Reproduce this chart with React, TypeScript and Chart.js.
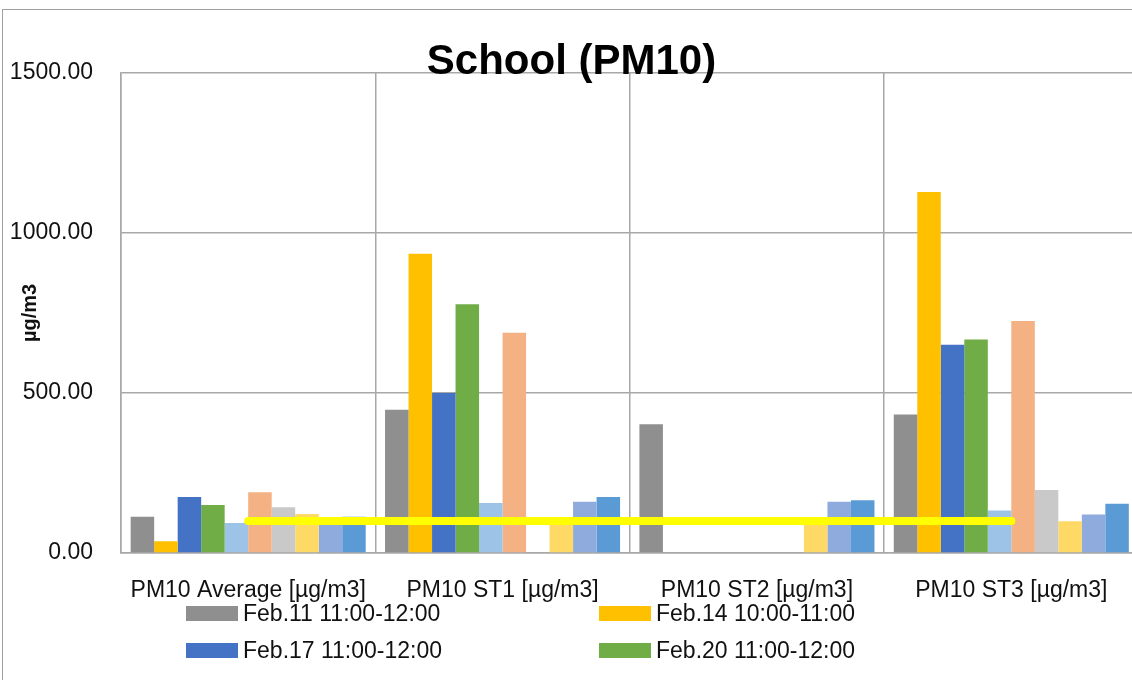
import React, { useEffect, useRef } from "react";
import { Chart, registerables } from "chart.js";

Chart.register(...registerables);

const categories = [
  "PM10 Average [µg/m3]",
  "PM10 ST1 [µg/m3]",
  "PM10 ST2 [µg/m3]",
  "PM10 ST3 [µg/m3]",
];

const seriesNames = [
  "Feb.11 11:00-12:00",
  "Feb.14 10:00-11:00",
  "Feb.17 11:00-12:00",
  "Feb.20 11:00-12:00",
  "Series 5",
  "Series 6",
  "Series 7",
  "Series 8",
  "Series 9",
  "Series 10",
];

const feb11 = [113, 448, 402, 433];
const feb14 = [37, 935, 0, 1128];
const feb17 = [175, 500, 0, 651];
const feb20 = [150, 777, 0, 667];
const series5 = [94, 156, 0, 133];
const series6 = [190, 688, 0, 725];
const series7 = [143, 0, 0, 197];
const series8 = [122, 100, 100, 99];
const series9 = [112, 160, 160, 120];
const series10 = [113, 175, 165, 154];

const limitLine = [100, 100, 100, 100];

const yTicks = [0, 500, 1000, 1500];

const seriesValues = [feb11, feb14, feb17, feb20, series5, series6, series7, series8, series9, series10];
const seriesColors = [
  "#8f8f8f",
  "#ffc000",
  "#4472c4",
  "#70ad47",
  "#9dc3e6",
  "#f4b183",
  "#c9c9c9",
  "#ffd966",
  "#8faadc",
  "#5b9bd5",
];

const legendShown = [0, 1, 2, 3];

const FONT = "'Liberation Sans', Arial, sans-serif";

export default function App() {
  const canvasRef = useRef<HTMLCanvasElement | null>(null);

  useEffect(() => {
    const canvas = canvasRef.current;
    if (!canvas) return;
    const barSets = seriesValues.map((vals, i) => ({
      type: "bar" as const,
      label: seriesNames[i],
      data: vals,
      backgroundColor: seriesColors[i],
      borderWidth: 0,
      categoryPercentage: 0.924,
      barPercentage: 1.0,
      order: 1,
    }));
    const chart = new Chart(canvas, {
      type: "bar",
      data: {
        labels: categories,
        datasets: [
          ...barSets,
          {
            type: "line" as const,
            label: "Limit",
            data: limitLine,
            borderColor: "#ffff00",
            backgroundColor: "#ffff00",
            borderWidth: 8,
            borderCapStyle: "round",
            pointRadius: 0,
            fill: false,
            order: -1,
          } as any,
        ],
      },
      options: {
        responsive: false,
        animation: false,
        layout: { padding: { left: 0, top: 73, right: 11.5, bottom: 0 } },
        plugins: {
          legend: { display: false },
          title: { display: false },
          tooltip: { enabled: false },
        },
        scales: {
          x: {
            offset: true,
            grid: { offset: true, color: "#a8a8a8", lineWidth: 1.5, drawTicks: false },
            border: { color: "#a8a8a8", width: 1.5 },
            ticks: {
              color: "#111",
              font: { family: FONT, size: 23 },
              padding: 24,
              maxRotation: 0,
              autoSkip: false,
            },
            afterFit: (scale: any) => {
              scale.height = 127;
            },
          },
          y: {
            min: 0,
            max: 1500,
            afterBuildTicks: (scale: any) => {
              scale.ticks = yTicks.map((v) => ({ value: v }));
            },
            grid: { color: "#a8a8a8", lineWidth: 1.5, drawTicks: false },
            border: { color: "#a8a8a8", width: 1.5 },
            ticks: {
              color: "#111",
              font: { family: FONT, size: 23 },
              padding: 28,
              callback: (v: any) => Number(v).toFixed(2),
            },
            title: {
              display: true,
              text: "µg/m3",
              color: "#111",
              font: { family: FONT, size: 20, weight: "bold" },
              padding: { top: 18, bottom: 4 },
            },
            afterFit: (scale: any) => {
              scale.width = 121;
            },
          },
        },
      },
    });
    return () => chart.destroy();
  }, []);

  const legendPos = [
    { left: 186, top: 598.5 },
    { left: 599, top: 598.5 },
    { left: 186, top: 635 },
    { left: 599, top: 635 },
  ];

  return (
    <div
      style={{
        position: "fixed",
        left: 0,
        top: 0,
        width: 1132,
        height: 680,
        overflow: "hidden",
        background: "#fff",
      }}
    >
      <canvas
        ref={canvasRef}
        width={1150}
        height={680}
        style={{ position: "absolute", left: 0, top: 0, width: 1150, height: 680 }}
      />
      <div
        style={{
          position: "absolute",
          left: 2,
          top: 9,
          width: 1200,
          height: 700,
          borderTop: "1px solid #a0a0a0",
          borderLeft: "1px solid #a0a0a0",
          pointerEvents: "none",
        }}
      />
      <div
        style={{
          position: "absolute",
          left: 371.5,
          width: 400,
          top: 39.4,
          textAlign: "center",
          fontFamily: FONT,
          fontWeight: "bold",
          fontSize: 42,
          lineHeight: "42px",
          color: "#000",
          whiteSpace: "nowrap",
        }}
      >
        School (PM10)
      </div>
      {legendShown.map((si, k) => (
        <div
          key={si}
          style={{
            position: "absolute",
            left: legendPos[k].left,
            top: legendPos[k].top,
            height: 30,
            display: "flex",
            alignItems: "center",
            fontFamily: FONT,
            fontSize: 23,
            color: "#111",
            whiteSpace: "nowrap",
          }}
        >
          <span
            style={{
              display: "inline-block",
              width: 52,
              height: 15,
              background: seriesColors[si],
              marginRight: 5,
            }}
          />
          <span>{seriesNames[si]}</span>
        </div>
      ))}
    </div>
  );
}
